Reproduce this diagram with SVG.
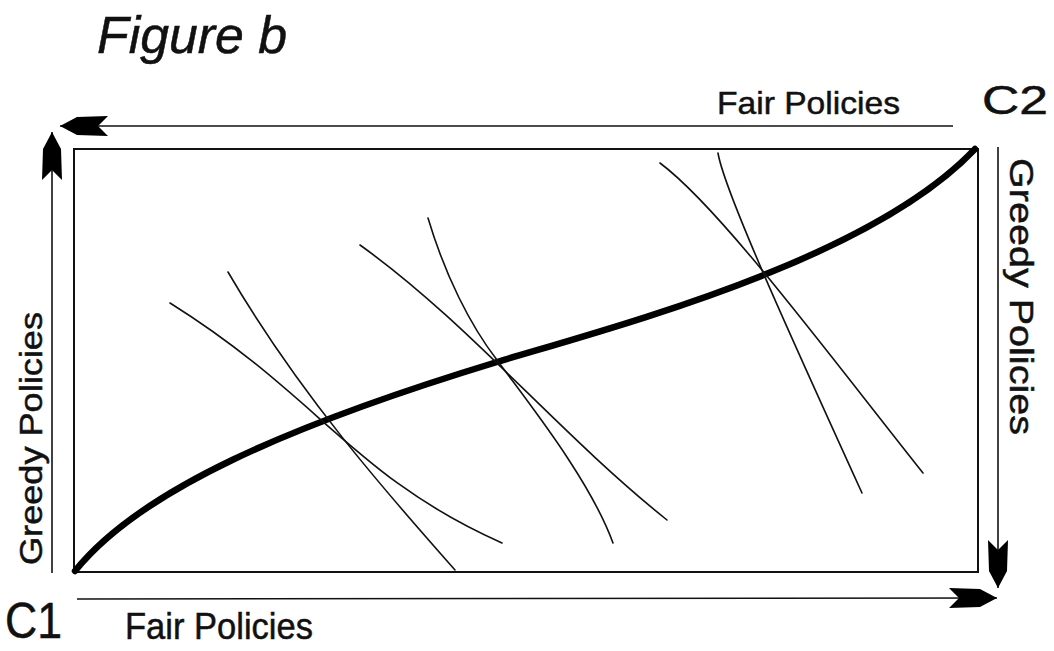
<svg xmlns="http://www.w3.org/2000/svg" width="1054" height="651" viewBox="0 0 1054 651">
<style>
.lbl{font-family:"Liberation Sans",Arial,sans-serif;fill:#111;stroke:#111;stroke-width:0.5;}
.axis{stroke:#111;stroke-width:1.6;fill:none;}
.thin{stroke:#111;stroke-width:1.6;fill:none;stroke-linecap:round;}
.thick{stroke:#000;stroke-width:6.5;fill:none;stroke-linecap:round;}
</style>
<defs>
<marker id="ah" viewBox="-50 -11 52 22" refX="0" refY="0" markerWidth="52" markerHeight="22" markerUnits="userSpaceOnUse" orient="auto">
<path d="M0,0 L-17,-9 L-48,-10 L-38,0 L-48,10 L-17,9 Z" fill="#000"/>
</marker>
</defs>
<rect width="1054" height="651" fill="#fff"/>
<g id="title"><text class="lbl" x="97" y="53" font-size="52" font-style="italic" textLength="190" lengthAdjust="spacingAndGlyphs">Figure b</text></g>
<g id="frame"><rect x="74" y="149" width="904" height="423" fill="none" stroke="#111" stroke-width="2"/></g>
<g id="connectors">
<line class="axis" x1="953" y1="126" x2="60" y2="126" marker-end="url(#ah)"/>
<line class="axis" x1="52" y1="573" x2="52" y2="132" marker-end="url(#ah)"/>
<line class="axis" x1="998" y1="147" x2="998" y2="588" marker-end="url(#ah)"/>
<line class="axis" x1="77" y1="599" x2="997" y2="598" marker-end="url(#ah)"/>
</g>
<g id="curves">
<path class="thick" d="M75,571 C140,490 290,425 497,362 C620,325 870,260 975,149"/>
<path class="thin" d="M170,303 C320,397 352,476 502,543"/>
<path class="thin" d="M228,272 C298,392 385,491 455,570"/>
<path class="thin" d="M360,245 C470,324 557,432 667,520"/>
<path class="thin" d="M428,218 C445,275 470,325 497,360 C530,405 590,480 613,543"/>
<path class="thin" d="M660,163 C720,208 823,347 923,473"/>
<path class="thin" d="M718,153 C724,190 790,335 862,493"/>
</g>
<g id="labels">
<text class="lbl" x="5" y="638" font-size="50" textLength="57" lengthAdjust="spacingAndGlyphs">C1</text>
<text class="lbl" x="982" y="114" font-size="40" textLength="66" lengthAdjust="spacingAndGlyphs">C2</text>
<text class="lbl" x="717" y="114" font-size="32" textLength="183" lengthAdjust="spacingAndGlyphs">Fair Policies</text>
<text class="lbl" x="125" y="639" font-size="37" textLength="188" lengthAdjust="spacingAndGlyphs">Fair Policies</text>
<text class="lbl" transform="translate(42,565) rotate(-90)" font-size="31" textLength="253" lengthAdjust="spacingAndGlyphs">Greedy Policies</text>
<text class="lbl" transform="translate(1010,158) rotate(90)" font-size="33" textLength="277" lengthAdjust="spacingAndGlyphs">Greedy Policies</text>
</g>
</svg>
